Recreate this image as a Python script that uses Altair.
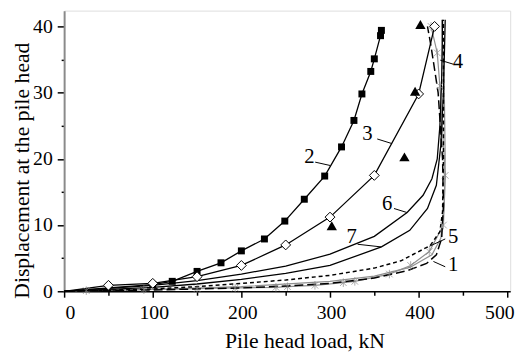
import altair as alt
import pandas as pd

# ---- data (load kN, displacement) ----
load_2 = [0, 50, 100, 122, 150, 177, 200, 226, 249, 271, 294, 313, 327, 336, 346, 350, 357, 358]
disp_2 = [0, 0.5, 1.0, 1.5, 3.0, 4.3, 6.1, 7.9, 10.6, 13.9, 17.4, 21.8, 25.8, 29.8, 33.2, 35.1, 38.6, 39.4]

load_3 = [0, 50, 100, 150, 200, 250, 300, 350, 400, 418]
disp_3 = [0, 0.9, 1.2, 2.2, 3.9, 7.0, 11.2, 17.5, 29.8, 40.0]

load_tri = [302, 384, 396, 402]
disp_tri = [9.9, 20.3, 30.2, 40.3]

load_6 = [0, 100, 150, 200, 250, 300, 350, 387, 405, 415, 421, 424, 426, 427]
disp_6 = [0, 0.9, 1.6, 2.6, 3.8, 5.6, 8.3, 11.9, 14.5, 17.0, 20.0, 25.0, 32.0, 41.0]

load_7 = [0, 100, 150, 200, 250, 300, 358, 390, 410, 420, 425, 428, 430]
disp_7 = [0, 0.6, 1.1, 1.8, 2.7, 3.9, 6.7, 9.2, 12.5, 16.0, 22.0, 30.0, 41.0]

load_5 = [0, 100, 150, 200, 250, 300, 350, 380, 413, 424, 427, 428, 428, 428]
disp_5 = [0, 0.35, 0.7, 1.2, 1.7, 2.4, 3.5, 4.6, 6.9, 9.0, 12.0, 20.0, 30.0, 41.0]

load_1 = [0, 100, 150, 200, 250, 300, 350, 387, 409, 420, 426, 428, 427, 422, 414, 410]
disp_1 = [0, 0.2, 0.35, 0.5, 0.8, 1.2, 2.0, 3.1, 4.2, 5.5, 8.0, 13.0, 20.0, 30.0, 37.0, 40.0]

load_4 = [0, 25, 90, 150, 193, 239, 252, 283, 315, 328, 367, 391, 412, 428, 430, 424, 421, 414]
disp_4 = [0, 0.1, 0.25, 0.4, 0.5, 0.6, 0.7, 0.9, 1.3, 1.5, 2.6, 3.9, 6.0, 10.0, 17.5, 31.0, 36.0, 40.0]

load_g = [0, 100, 200, 300, 350, 390, 415, 425, 429, 430, 429, 426]
disp_g = [0, 0.3, 0.7, 1.5, 2.3, 3.6, 5.5, 8.0, 13.0, 20.0, 30.0, 41.0]

# curve labels and leader lines
lab_text = ["1", "2", "3", "4", "5", "6", "7"]
lab_x = [438.9, 276.7, 342.2, 444.4, 438.9, 364.4, 324.4]
lab_y = [3.9, 20.2, 23.8, 34.6, 8.2, 13.1, 8.2]
lead_x1 = [416.7, 283.3, 353.3, 424.4, 412.2, 372.2, 331.1]
lead_y1 = [4.5, 19.5, 23.0, 34.9, 6.8, 12.5, 7.1]
lead_x2 = [430.0, 300.0, 370.0, 438.9, 430.0, 386.7, 357.8]
lead_y2 = [3.7, 19.0, 22.3, 34.3, 7.9, 11.9, 6.7]

x_ticks = list(range(0, 501, 50))
y_ticks = list(range(0, 41, 5))


def frame(name, loads, disps):
    return pd.DataFrame({"series": name, "load": loads, "disp": disps,
                         "i": list(range(len(loads)))})


FONT = "Liberation Serif, Times New Roman, serif"
xscale = alt.Scale(domain=[0, 503.3], nice=False, zero=False)
yscale = alt.Scale(domain=[0, 42.38], nice=False, zero=False)

xaxis = alt.Axis(
    values=x_ticks,
    labelExpr="datum.value % 100 === 0 ? datum.label : ''",
    grid=False, domainColor="black", domainWidth=1.5,
    tickColor="black", tickWidth=1.5,
    tickSize={"condition": {"test": "datum.value % 100 === 0", "value": 6}, "value": 4},
    labelOffset={"condition": {"test": "datum.value === 500", "value": -8}, "value": 1},
    labelFont=FONT, labelFontSize=20, labelColor="black", labelPadding=6,
    title="Pile head load, kN", titleFont=FONT, titleFontSize=22,
    titleFontWeight="normal", titleColor="black",
    titleX=244, titleY=57, titleBaseline="alphabetic", titleAlign="center",
)
yaxis = alt.Axis(
    values=y_ticks,
    labelExpr="datum.value % 10 === 0 ? datum.label : ''",
    grid=False, domainColor="#8a8a8a", domainWidth=2,
    tickColor="black", tickWidth=1.5,
    tickSize={"condition": {"test": "datum.value % 10 === 0", "value": 7}, "value": 3},
    labelFont=FONT, labelFontSize=20, labelColor="black", labelPadding=5,
    title="Displacement at the pile head", titleFont=FONT, titleFontSize=22,
    titleFontWeight="normal", titleColor="black",
    titleX=-36, titleY=162, titleAngle=270, titleBaseline="alphabetic", titleAlign="center",
)

X = alt.X("load:Q", scale=xscale, axis=xaxis)
Y = alt.Y("disp:Q", scale=yscale, axis=yaxis)

solid = pd.concat([frame("2", load_2, disp_2), frame("3", load_3, disp_3),
                   frame("6", load_6, disp_6), frame("7", load_7, disp_7)])
grey = pd.concat([frame("4", load_4, disp_4), frame("g", load_g, disp_g)])
d5 = frame("5", load_5, disp_5)
d1 = frame("1", load_1, disp_1)

layers = []
layers.append(alt.Chart(grey).mark_line(color="#8f8f8f", strokeWidth=1.2).encode(
    x=X, y=Y, detail="series:N", order="i:Q"))
layers.append(alt.Chart(solid).mark_line(color="black", strokeWidth=1.3).encode(
    x=X, y=Y, detail="series:N", order="i:Q"))
layers.append(alt.Chart(d5).mark_line(color="black", strokeWidth=1.5, strokeDash=[4, 3]).encode(
    x=X, y=Y, order="i:Q"))
layers.append(alt.Chart(d1).mark_line(color="black", strokeWidth=1.5, strokeDash=[9, 4]).encode(
    x=X, y=Y, order="i:Q"))

# markers
d4m = frame("4", load_4, disp_4).iloc[1:]
layers.append(alt.Chart(d4m).mark_point(
    shape="M-1,-1L1,1M-1,1L1,-1M0,-1.3L0,1.3", filled=False, color="#8a8a8a",
    strokeWidth=1, size=45).encode(x=X, y=Y))
d2m = frame("2", load_2, disp_2).iloc[2:]
layers.append(alt.Chart(d2m).mark_point(
    shape="square", filled=True, color="black", size=50, opacity=1).encode(x=X, y=Y))
d3m = frame("3", load_3, disp_3).iloc[1:]
layers.append(alt.Chart(d3m).mark_point(
    shape="diamond", filled=True, fill="white", stroke="black", strokeWidth=1,
    size=100, opacity=1).encode(x=X, y=Y))
dtri = frame("t", load_tri, disp_tri)
layers.append(alt.Chart(dtri).mark_point(
    shape="triangle-up", filled=True, color="black", size=110, opacity=1).encode(x=X, y=Y))

# leaders and labels
leads = pd.DataFrame({"load": lead_x1, "disp": lead_y1, "lx2": lead_x2, "ly2": lead_y2})
layers.append(alt.Chart(leads).mark_rule(color="black", strokeWidth=1).encode(
    x=X, y=Y, x2="lx2:Q", y2="ly2:Q"))
labs = pd.DataFrame({"load": lab_x, "disp": lab_y, "t": lab_text})
layers.append(alt.Chart(labs).mark_text(
    font=FONT, fontSize=21, color="black", align="center", baseline="middle").encode(
    x=X, y=Y, text="t:N"))

chart = alt.layer(*layers).properties(
    width=453, height=285,
    autosize=alt.AutoSizeParams(type="none"),
    padding={"left": 57, "top": 0, "right": 12, "bottom": 60},
).configure_view(stroke=None).configure(
    background="white", font=FONT
).configure_axis(labelFont=FONT, titleFont=FONT).configure_text(font=FONT)

chart.save("out.html", embed_options={"renderer": "svg", "actions": False})
